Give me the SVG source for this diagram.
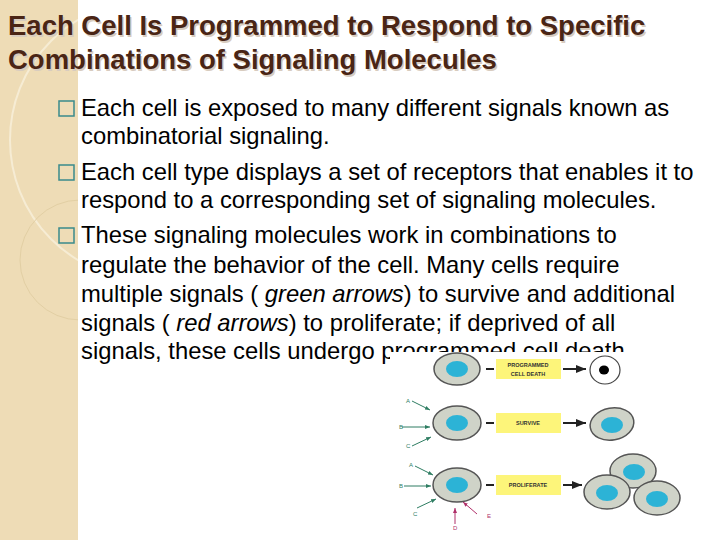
<svg xmlns="http://www.w3.org/2000/svg" width="720" height="540" viewBox="0 0 720 540">
<defs>
<style>
.t{font-family:"Liberation Sans",Arial,sans-serif;font-weight:bold;font-size:27.5px;fill:#4a2515}
.b{font-family:"Liberation Sans",Arial,sans-serif;font-size:23.8px;fill:#000}
.cell{fill:#cfd3c8;stroke:#555;stroke-width:1.5}
.nuc{fill:#2cb3d6}
.box{fill:#fdf57a}
.bl{font-family:"Liberation Sans",Arial,sans-serif;font-size:5.5px;font-weight:bold;fill:#333;text-anchor:middle}
.ln{stroke:#222;stroke-width:2}
.g{stroke:#2e7d62;stroke-width:1;fill:none;marker-end:url(#ag)}
.m{stroke:#b0306a;stroke-width:1;fill:none;marker-end:url(#am)}
.lg{font-family:"Liberation Sans",Arial,sans-serif;font-size:6px;fill:#2e7d62}
.lm{font-family:"Liberation Sans",Arial,sans-serif;font-size:6px;fill:#b0306a}
</style>
<clipPath id="strip"><rect width="78" height="540"/></clipPath>
<marker id="ag" markerWidth="6" markerHeight="6" refX="5" refY="3" orient="auto"><path d="M0,1 L5,3 L0,5z" fill="#2e7d62"/></marker>
<marker id="am" markerWidth="6" markerHeight="6" refX="5" refY="3" orient="auto"><path d="M0,1 L5,3 L0,5z" fill="#b0306a"/></marker>
<marker id="ak" markerWidth="6" markerHeight="6" refX="5" refY="3" orient="auto"><path d="M0,1 L5,3 L0,5z" fill="#222"/></marker>
</defs>
<rect width="720" height="540" fill="#fff"/>
<rect width="78" height="540" fill="#eedcb6"/>
<g fill="none" stroke="#f6ecd4" stroke-width="2" clip-path="url(#strip)">
<circle cx="150" cy="140" r="140"/><circle cx="80" cy="260" r="60" stroke="#e2cfa4" stroke-width="1"/>
</g>
<text class="t" x="8" y="35" style="fill:#d8ccbf" transform="translate(1.5,1.5)">Each Cell Is Programmed to Respond to Specific</text>
<text class="t" x="8" y="69" style="fill:#d8ccbf" transform="translate(1.5,1.5)">Combinations of Signaling Molecules</text>
<text class="t" x="8" y="35">Each Cell Is Programmed to Respond to Specific</text>
<text class="t" x="8" y="69">Combinations of Signaling Molecules</text>
<g fill="none" stroke="#3a8a8c" stroke-width="1.5">
<rect x="59" y="101" width="15" height="15"/><rect x="59" y="165" width="15" height="15"/><rect x="59" y="228" width="15" height="15"/>
</g>
<text class="b" x="81" y="116">Each cell is exposed to many different signals known as</text>
<text class="b" x="81" y="144">combinatorial signaling.</text>
<text class="b" x="81" y="180">Each cell type displays a set of receptors that enables it to</text>
<text class="b" x="81" y="208">respond to a corresponding set of signaling molecules.</text>
<text class="b" x="81" y="243">These signaling molecules work in combinations to</text>
<text class="b" x="81" y="273">regulate the behavior of the cell.  Many cells require</text>
<text class="b" x="81" y="302">multiple signals ( <tspan font-style="italic">green arrows</tspan>) to survive and additional</text>
<text class="b" x="81" y="331">signals ( <tspan font-style="italic">red arrows</tspan>) to proliferate; if deprived of all</text>
<text class="b" x="81" y="359">signals, these cells undergo programmed cell death.</text>
<rect x="390" y="352" width="330" height="188" fill="#fff"/>
<g id="row1">
<ellipse class="cell" cx="457" cy="369" rx="23" ry="16"/><ellipse class="nuc" cx="457" cy="369" rx="11" ry="8"/>
<rect class="box" x="496" y="359" width="65" height="20"/><text class="bl" x="528" y="366.5">PROGRAMMED</text><text class="bl" x="528" y="375.5">CELL DEATH</text>
<line class="ln" x1="486" y1="369" x2="494" y2="369"/><line class="ln" x1="563" y1="369" x2="586" y2="369" marker-end="url(#ak)" stroke-width="1.5"/>
<ellipse cx="605" cy="370" rx="15" ry="14" fill="#fff" stroke="#444" stroke-width="1.2"/><ellipse cx="604" cy="370" rx="5" ry="4.5" fill="#000"/>
</g>
<g id="row2">
<ellipse class="cell" cx="457" cy="423" rx="24" ry="17"/><ellipse class="nuc" cx="457" cy="423" rx="11" ry="8"/>
<rect class="box" x="496" y="413" width="65" height="20"/><text class="bl" x="528" y="425">SURVIVE</text>
<line class="ln" x1="486" y1="423" x2="494" y2="423"/><line class="ln" x1="563" y1="423" x2="586" y2="423" marker-end="url(#ak)" stroke-width="1.5"/>
<ellipse class="cell" cx="612" cy="424" rx="22" ry="16" transform="rotate(-10 612 424)"/><ellipse class="nuc" cx="612" cy="425" rx="11" ry="8"/>
</g>
<g id="row3">
<ellipse class="cell" cx="457" cy="485" rx="24" ry="17"/><ellipse class="nuc" cx="457" cy="485" rx="11" ry="8"/>
<rect class="box" x="496" y="475" width="65" height="20"/><text class="bl" x="528" y="487">PROLIFERATE</text>
<line class="ln" x1="486" y1="485" x2="494" y2="485"/><line class="ln" x1="563" y1="485" x2="582" y2="485" marker-end="url(#ak)" stroke-width="1.5"/>
<ellipse class="cell" cx="633" cy="471" rx="23" ry="17"/><ellipse class="nuc" cx="634" cy="472" rx="11" ry="8"/>
<ellipse class="cell" cx="607" cy="492" rx="23" ry="17"/><ellipse class="nuc" cx="607" cy="493" rx="11" ry="8"/>
<ellipse class="cell" cx="657" cy="498" rx="23" ry="17"/><ellipse class="nuc" cx="657" cy="499" rx="11" ry="8"/>
</g>
<g id="connectors">
<path class="g" d="M412,401 L430,410"/><path class="g" d="M402,427 L430,427"/><path class="g" d="M412,446 L431,437"/>
<path class="g" d="M415,466 L433,475"/><path class="g" d="M404,486 L431,486"/><path class="g" d="M417,508 L436,499"/>
<path class="m" d="M455,524 L455,508"/><path class="m" d="M477,514 L463,502"/>
</g>
<text class="lg" x="406" y="403">A</text><text class="lg" x="399" y="429">B</text><text class="lg" x="406" y="448">C</text>
<text class="lg" x="409" y="467">A</text><text class="lg" x="399" y="488">B</text><text class="lg" x="413" y="516">C</text>
<text class="lm" x="453" y="530">D</text><text class="lm" x="487" y="518">E</text>
</svg>
